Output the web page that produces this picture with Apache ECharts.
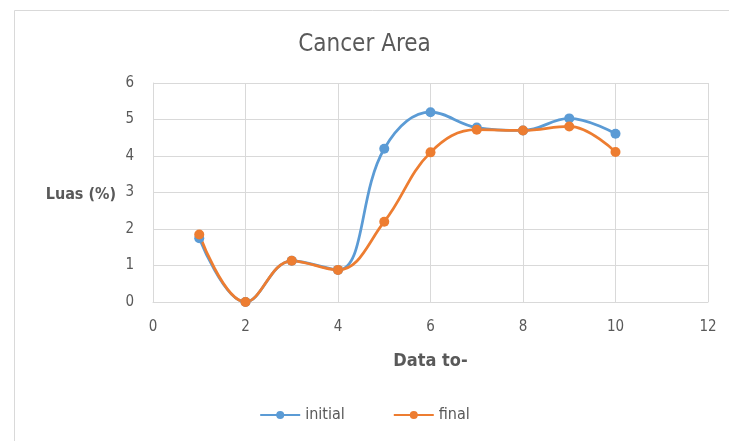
<!DOCTYPE html>
<html><head><meta charset="utf-8">
<script src="https://cdn.jsdelivr.net/npm/echarts@6/dist/echarts.min.js"></script>
<style>html,body{margin:0;padding:0;background:#fff}#c{width:729px;height:441px}</style>
</head><body><div id="c"></div>
<script>
const xValues = [1, 2, 3, 4, 5, 6, 7, 8, 9, 10];
const initialValues = [1.75, 0, 1.13, 0.88, 4.2, 5.2, 4.78, 4.7, 5.03, 4.61];
const finalValues = [1.85, 0, 1.13, 0.88, 2.2, 4.1, 4.72, 4.7, 4.81, 4.11];
const seriesNames = ['initial', 'final'];

const font = '"Liberation Sans Narrow", "DejaVu Sans Condensed", "Liberation Sans", sans-serif';
const chart = echarts.init(document.getElementById('c'), null, {renderer: 'canvas'});
const pair = (xs, ys) => xs.map((x, i) => [x, ys[i]]);
chart.setOption({
  animation: false,
  backgroundColor: '#fff',
  graphic: [{
    type: 'rect', left: 12, top: 8, shape: {width: 740, height: 460},
    style: {fill: 'none', stroke: '#d9d9d9', lineWidth: 1}, silent: true
  }, {
    type: 'text', x: 116, y: 195,
    style: {text: 'Luas (%)', font: 'bold 16px ' + font, fill: '#595959', align: 'right', verticalAlign: 'middle'}
  }],
  title: {
    text: 'Cancer Area', left: 'center', top: 28,
    textStyle: {fontFamily: font, fontSize: 24, fontWeight: 'normal', color: '#595959'}
  },
  legend: {
    data: seriesNames, bottom: 13, left: 'center', itemWidth: 40, itemHeight: 10, itemGap: 48,
    textStyle: {fontFamily: font, fontSize: 16, color: '#595959'}
  },
  grid: {left: 153, right: 21, top: 83, bottom: 139},
  xAxis: {
    type: 'value', min: 0, max: 12, interval: 2,
    name: 'Data to-', nameLocation: 'middle', nameGap: 50,
    nameTextStyle: {fontFamily: font, fontSize: 18, fontWeight: 'bold', color: '#595959'},
    axisLine: {show: true, lineStyle: {color: '#d9d9d9'}},
    axisTick: {show: false},
    axisLabel: {fontFamily: font, fontSize: 15, color: '#595959', margin: 18},
    splitLine: {show: true, lineStyle: {color: '#d9d9d9'}}
  },
  yAxis: {
    type: 'value', min: 0, max: 6, interval: 1,
    axisLine: {show: true, lineStyle: {color: '#d9d9d9'}},
    axisTick: {show: false},
    axisLabel: {fontFamily: font, fontSize: 15, color: '#595959', margin: 19},
    splitLine: {show: true, lineStyle: {color: '#d9d9d9'}}
  },
  series: [{
    name: seriesNames[0], type: 'line', smooth: 0.4, data: pair(xValues, initialValues),
    symbol: 'circle', symbolSize: 10,
    itemStyle: {color: '#5B9BD5'}, lineStyle: {color: '#5B9BD5', width: 2.75}
  }, {
    name: seriesNames[1], type: 'line', smooth: 0.4, data: pair(xValues, finalValues),
    symbol: 'circle', symbolSize: 10,
    itemStyle: {color: '#ED7D31'}, lineStyle: {color: '#ED7D31', width: 2.75}
  }]
});
</script></body></html>
